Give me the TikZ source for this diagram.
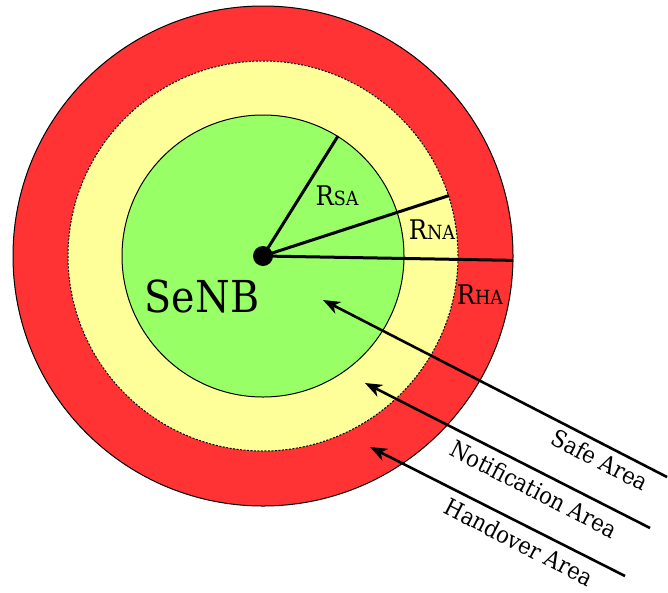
\documentclass[tikz,border=0pt]{standalone}
\usepackage{fontspec}
\setmainfont{DejaVu Serif Condensed}
\usetikzlibrary{arrows.meta}
\definecolor{hared}{RGB}{255,51,51}
\definecolor{nayellow}{RGB}{255,255,153}
\definecolor{sagreen}{RGB}{153,255,102}
\tikzset{
  area/.style={circle, draw=black, line width=1pt, inner sep=0pt},
  radius/.style={line width=3pt},
  pointer/.style={line width=2.6pt, -{Stealth[length=17pt,width=13pt,inset=5pt]}},
  rlabel/.style={inner sep=0pt, font=\fontsize{27}{27}\selectfont},
  arealabel/.style={inner sep=0pt, rotate=-27.2, font=\fontsize{23.5}{23.5}\selectfont},
}
\newcommand{\sublbl}[1]{{\fontsize{19.5}{19.5}\selectfont #1}}
\begin{document}
\begin{tikzpicture}[x=1pt,y=-1pt]
\useasboundingbox (0,0) rectangle (668,592);
\coordinate (c) at (263,256);
\node[area, fill=hared, minimum size=500pt] (ha) at (c) {};
\node[area, fill=nayellow, minimum size=390pt, dash pattern=on 2pt off 1.5pt] (na) at (c) {};
\node[area, fill=sagreen, minimum size=282pt] (sa) at (c) {};
\node[circle, fill=black, minimum size=20pt, inner sep=0pt] (enb) at (c) {};
\draw[radius] (enb.center) -- (sa.58.9);
\draw[radius] (enb.center) -- (na.18.3);
\draw[radius] (enb.center) -- (ha.-1.6);
\node[rlabel] (rsa) at (337,196) {R\sublbl{SA}};
\node[rlabel] (rna) at (432,230) {R\sublbl{NA}};
\node[rlabel] (rha) at (480,295) {R\sublbl{HA}};
\node[inner sep=0pt, font=\fontsize{44}{44}\selectfont] (senb) at (202,296) {SeNB};
\coordinate (s0) at (667,477);
\coordinate (s1) at (323,300);
\coordinate (n0) at (650,528);
\coordinate (n1) at (365,383);
\coordinate (h0) at (625,576);
\coordinate (h1) at (370,447);
\draw[pointer] (s0) -- (s1);
\draw[pointer] (n0) -- (n1);
\draw[pointer] (h0) -- (h1);
\node[arealabel] (lsa) at (600,460) {Safe Area};
\node[arealabel] (lna) at (534,489) {Notification Area};
\node[arealabel] (lha) at (519,542) {Handover Area};
\end{tikzpicture}
\end{document}
